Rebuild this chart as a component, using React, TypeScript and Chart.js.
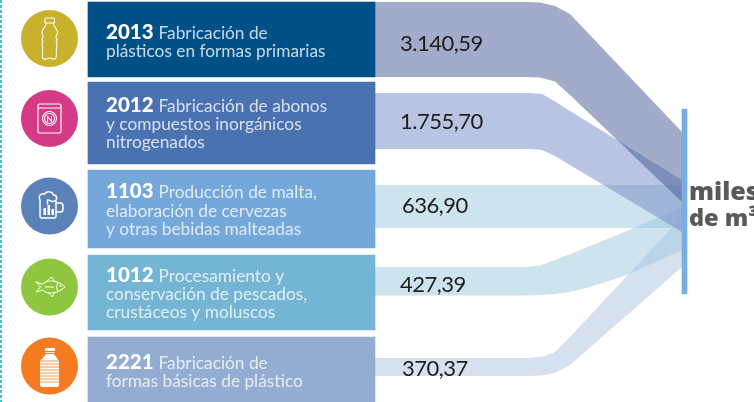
import React, { useEffect, useRef } from "react";
import { Chart, registerables } from "chart.js";

Chart.register(...registerables);

// ---- data ----
const codes = ["2013", "2012", "1103", "1012", "2221"];
const nameFirstLine = ["Fabricación de", "Fabricación de abonos", "Producción de malta,", "Procesamiento y", "Fabricación de"];
const nameMoreLines = [
  ["plásticos en formas primarias"],
  ["y compuestos inorgánicos", "nitrogenados"],
  ["elaboración de cervezas", "y otras bebidas malteadas"],
  ["conservación de pescados,", "crustáceos y moluscos"],
  ["formas básicas de plástico"],
];
const valueLabels = ["3.140,59", "1.755,70", "636,90", "427,39", "370,37"];
const unitLines = ["miles", "de m³"];

// band stations along the flow (horizontal chart units) and band edges at each station
const flow1X = [375, 525, 540, 555, 570, 682];
const flow1Top = [2, 2, 2.5, 6, 14, 132];
const flow1Bottom = [77, 77, 77.5, 81.5, 95, 202];
const flow2X = [375, 530, 542, 555, 570, 682];
const flow2Top = [93, 93, 94, 101.5, 111, 180];
const flow2Bottom = [149, 149, 150, 156, 165, 232];
const flow3X = [375, 682];
const flow3Top = [185, 185];
const flow3Bottom = [228, 228];
const flow4X = [375, 525, 540, 555, 570, 590, 627, 682];
const flow4Top = [267, 267, 265.5, 260, 254, 246, 231, 207];
const flow4Bottom = [295.5, 295.5, 295, 294, 292, 287, 275, 250];
const flow5X = [375, 530, 545, 555, 570, 682];
const flow5Top = [358, 358, 356, 352, 337, 217];
const flow5Bottom = [376, 376, 375, 373, 365, 267];

// ---- layout ----
const boxStart = [88, 88, 88, 88, 88];
const boxEnd = [375, 375, 375, 375, 375];
const boxTop = [2, 82, 170, 255, 337];
const boxBottom = [77, 164, 248, 330, 402];
const boxColors = ["#005088", "#4b72b0", "#74a7da", "#73b5d3", "#92acd2"];
const circleX = [49.5, 49.5, 49.5, 49.5, 49.5];
const circleY = [38.5, 118.5, 206, 287, 366];
const circleColors = ["#c8b12d", "#d53a87", "#5a82b9", "#8fc640", "#f47b20"];
const textX = 106;
const textBaselines = [[39, 57], [112, 130, 148], [198, 217, 235], [282, 300, 318], [369, 387]];
const valueX = [400, 400, 402, 400, 402];
const valueY = [51, 129, 213, 292, 376];
const flowColors = [
  "rgba(70,90,150,0.5)",
  "rgba(113,137,197,0.5)",
  "rgba(155,199,221,0.5)",
  "rgba(155,199,221,0.5)",
  "rgba(173,195,223,0.5)",
];

const zip = (xs: number[], ys: number[]) => xs.map((x, i) => ({ x, y: ys[i] }));

function flowSets(xs: number[], top: number[], bottom: number[], color: string) {
  const base = { type: "line", showLine: true, borderWidth: 0, pointRadius: 0, tension: 0, borderColor: "transparent" };
  return [
    { ...base, data: zip(xs, top), fill: "+1", backgroundColor: color, order: 5 },
    { ...base, data: zip(xs, bottom), fill: false, order: 5 },
  ];
}

function drawIcon(ctx: CanvasRenderingContext2D, i: number, cx: number, cy: number) {
  ctx.save();
  ctx.translate(cx, cy);
  ctx.strokeStyle = "#fff";
  ctx.fillStyle = "#fff";
  ctx.lineWidth = 1.1;
  ctx.lineJoin = "round";
  ctx.lineCap = "round";
  ctx.beginPath();
  if (i === 0) {
    ctx.roundRect(-4.5, -20.5, 9.5, 5, 1);
    ctx.moveTo(-3, -15.5);
    ctx.bezierCurveTo(-4, -11, -7.5, -10, -7.5, -6);
    ctx.bezierCurveTo(-7.5, -3, -6, -3, -6.5, -1);
    ctx.bezierCurveTo(-8, 1, -8, 2, -6.5, 3);
    ctx.bezierCurveTo(-8, 5, -8, 6, -7, 8);
    ctx.lineTo(-7, 19);
    ctx.bezierCurveTo(-7, 21, -4, 21, -2, 20);
    ctx.bezierCurveTo(1, 18, 3, 22, 6, 20);
    ctx.bezierCurveTo(8, 18, 6, 14, 7, 10);
    ctx.moveTo(3.5, -15.5);
    ctx.bezierCurveTo(4, -11, 8, -10, 8, -6);
    ctx.bezierCurveTo(8, -3, 6, -3, 6.5, -1);
    ctx.bezierCurveTo(8, 1, 8, 2, 6.5, 3);
    ctx.bezierCurveTo(8, 5, 8, 6, 7, 10);
    ctx.stroke();
  } else if (i === 1) {
    ctx.roundRect(-11.5, -14.5, 23, 29, 1.5);
    ctx.moveTo(-11, -10.5);
    ctx.lineTo(11, -10.5);
    ctx.moveTo(7, 0);
    ctx.arc(0, 0, 7, 0, Math.PI * 2);
    ctx.moveTo(5, 0);
    ctx.arc(0, 0, 5, 0, Math.PI * 2);
    ctx.stroke();
    ctx.font = "bold 8px Lato";
    ctx.textAlign = "center";
    ctx.textBaseline = "middle";
    ctx.fillText("N", 0, 0.5);
  } else if (i === 2) {
    ctx.lineWidth = 1.5;
    ctx.moveTo(-9.5, -6);
    ctx.lineTo(-9.5, 10);
    ctx.quadraticCurveTo(-9.5, 12, -7.5, 12);
    ctx.lineTo(4.5, 12);
    ctx.quadraticCurveTo(6.5, 12, 6.5, 10);
    ctx.lineTo(6.5, -5);
    ctx.moveTo(6.5, -3);
    ctx.lineTo(11, -3);
    ctx.quadraticCurveTo(13.5, -3, 13.5, 0);
    ctx.lineTo(13.5, 3);
    ctx.quadraticCurveTo(13.5, 6, 11, 6);
    ctx.lineTo(6.5, 6);
    ctx.moveTo(-9.5, -6);
    ctx.bezierCurveTo(-12, -11, -7, -13, -5, -12);
    ctx.bezierCurveTo(-3, -15, 3, -15, 4, -11);
    ctx.bezierCurveTo(8, -11, 8, -6, 5, -5);
    ctx.bezierCurveTo(2, -3, 0, -7, -2, -6);
    ctx.lineTo(-2, -2);
    ctx.stroke();
    ctx.fillRect(-6, 2, 2.5, 7);
    ctx.fillRect(-2, -1, 2.5, 10);
    ctx.fillRect(2, 3, 2.5, 6);
  } else if (i === 3) {
    ctx.lineWidth = 1;
    ctx.moveTo(-13.5, -5);
    ctx.lineTo(-9, 0);
    ctx.lineTo(-13.5, 5);
    ctx.lineTo(-7, 3);
    ctx.bezierCurveTo(-2, 8, 8, 7, 15.5, 0);
    ctx.bezierCurveTo(8, -7, -2, -8, -7, -3);
    ctx.closePath();
    ctx.moveTo(-3, -5.5);
    ctx.lineTo(2, -10);
    ctx.lineTo(6, -5);
    ctx.moveTo(-1, 5.5);
    ctx.lineTo(3, 10);
    ctx.lineTo(5, 5);
    ctx.moveTo(-4, 0);
    ctx.lineTo(4, 0);
    ctx.moveTo(8, -4);
    ctx.quadraticCurveTo(6, 0, 8, 4);
    ctx.stroke();
    ctx.beginPath();
    ctx.arc(11, -1, 0.9, 0, Math.PI * 2);
    ctx.fill();
  } else {
    ctx.roundRect(-4.5, -18, 10, 5, 1);
    ctx.moveTo(-3.5, -12);
    ctx.lineTo(4.5, -12);
    ctx.lineTo(9.5, -5);
    ctx.lineTo(9.5, 19);
    ctx.quadraticCurveTo(9.5, 21, 7.5, 21);
    ctx.lineTo(-7.5, 21);
    ctx.quadraticCurveTo(-9.5, 21, -9.5, 19);
    ctx.lineTo(-9.5, -5);
    ctx.closePath();
    ctx.fill();
    ctx.strokeStyle = "#f47b20";
    ctx.lineWidth = 0.8;
    ctx.beginPath();
    for (let y = -5; y < 17; y += 3) {
      ctx.moveTo(-9.5, y);
      ctx.lineTo(9.5, y);
    }
    ctx.stroke();
    ctx.fillStyle = "#f47b20";
    ctx.fillRect(-4.5, -15, 10, 1);
  }
  ctx.restore();
}

const overlayPlugin = {
  id: "overlay",
  afterDatasetsDraw(chart: any) {
    const { ctx, scales } = chart;
    const px = (v: number) => scales.x.getPixelForValue(v);
    const py = (v: number) => scales.y.getPixelForValue(v);
    ctx.save();
    ctx.textBaseline = "alphabetic";
    ctx.textAlign = "left";
    circleX.forEach((x, i) => drawIcon(ctx, i, px(x), py(circleY[i])));
    codes.forEach((code, i) => {
      const lines = textBaselines[i];
      ctx.font = "900 20.5px Lato";
      ctx.fillStyle = "#ffffff";
      ctx.fillText(code, px(textX), py(lines[0]));
      const w = ctx.measureText(code).width;
      ctx.font = "400 17.3px Lato";
      ctx.fillStyle = "rgba(255,255,255,0.78)";
      ctx.fillText(nameFirstLine[i], px(textX) + w + 5, py(lines[0]));
      nameMoreLines[i].forEach((t, j) => ctx.fillText(t, px(textX), py(lines[j + 1])));
    });
    ctx.font = "400 22px Lato";
    ctx.letterSpacing = "-0.5px";
    ctx.fillStyle = "#1d1d1f";
    valueLabels.forEach((t, i) => ctx.fillText(t, px(valueX[i]), py(valueY[i])));
    ctx.letterSpacing = "0px";
    ctx.fillStyle = "#58595b";
    ctx.font = "800 25px 'Open Sans'";
    ctx.fillText(unitLines[0], px(689), py(200));
    ctx.font = "800 23.5px 'Open Sans'";
    ctx.fillText(unitLines[1], px(689), py(226));
    ctx.restore();
  },
};

export default function App() {
  const ref = useRef<HTMLCanvasElement>(null);
  useEffect(() => {
    const boxSets = codes.map((_, i) => ({
      type: "bar",
      indexAxis: "y",
      grouped: false,
      barThickness: boxBottom[i] - boxTop[i],
      backgroundColor: boxColors[i],
      borderWidth: 0,
      data: [{ x: [boxStart[i], boxEnd[i]], y: (boxTop[i] + boxBottom[i]) / 2 }],
      order: 3,
    }));
    const targetSet = {
      type: "bar",
      indexAxis: "y",
      grouped: false,
      barThickness: 185,
      backgroundColor: "#78aee0",
      borderWidth: 0,
      data: [{ x: [682, 687], y: 201.5 }],
      order: 1,
    };
    const circleSet = {
      type: "scatter",
      showLine: false,
      data: zip(circleX, circleY),
      pointRadius: 28.5,
      pointHoverRadius: 28.5,
      pointBorderWidth: 0,
      pointBackgroundColor: circleColors,
      order: 2,
    };
    const dashSet = {
      type: "line",
      data: [{ x: 1, y: 0 }, { x: 1, y: 402 }],
      borderColor: "#3cc3cf",
      borderWidth: 2,
      borderDash: [3, 2],
      pointRadius: 0,
      fill: false,
      order: 2,
    };
    const chart = new Chart(ref.current as HTMLCanvasElement, {
      type: "line",
      data: {
        datasets: [
          ...flowSets(flow1X, flow1Top, flow1Bottom, flowColors[0]),
          ...flowSets(flow2X, flow2Top, flow2Bottom, flowColors[1]),
          ...flowSets(flow3X, flow3Top, flow3Bottom, flowColors[2]),
          ...flowSets(flow4X, flow4Top, flow4Bottom, flowColors[3]),
          ...flowSets(flow5X, flow5Top, flow5Bottom, flowColors[4]),
          ...boxSets,
          targetSet,
          circleSet,
          dashSet,
        ] as any,
      },
      options: {
        animation: false,
        responsive: false,
        layout: { padding: 0, autoPadding: false },
        plugins: { legend: { display: false }, tooltip: { enabled: false } },
        scales: {
          x: { type: "linear", min: 0, max: 754, display: false, offset: false },
          y: { type: "linear", min: 0, max: 402, reverse: true, display: false, offset: false },
        },
      } as any,
      plugins: [overlayPlugin],
    });
    return () => chart.destroy();
  }, []);
  return (
    <div style={{ position: "fixed", left: 0, top: 0, width: 754, height: 402, overflow: "hidden", background: "#fff" }}>
      <canvas ref={ref} width={754} height={402} style={{ display: "block" }} />
    </div>
  );
}
